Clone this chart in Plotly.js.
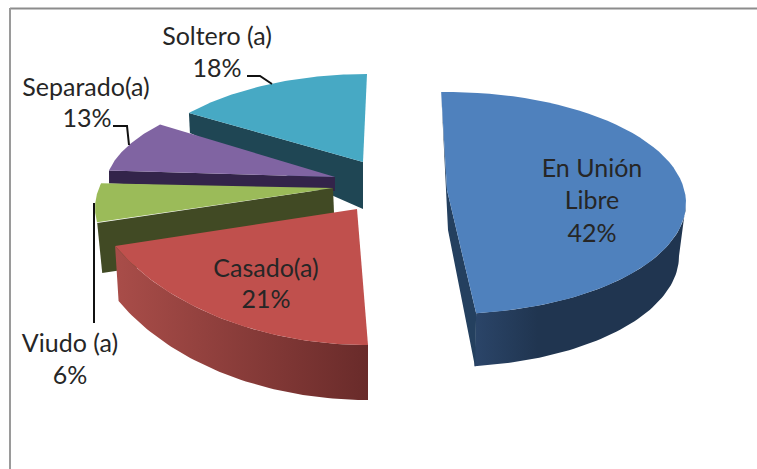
<!DOCTYPE html>
<html>
<head>
<meta charset="utf-8">
<script src="https://cdn.plot.ly/plotly-3.0.0.min.js"></script>
<style>html,body{margin:0;padding:0;background:#fff}</style>
</head>
<body>
<div id="chart" style="width:757px;height:469px"></div>
<script>
// Data
const categories = ['En Unión Libre', 'Casado(a)', 'Viudo (a)', 'Separado(a)', 'Soltero (a)'];
const percents = [42, 21, 6, 13, 18];
// Angle each slice starts at and spans as it appears in the 3-D perspective (degrees, clockwise from top)
const startAngle = [-1.4, 180, -97.8, -79.5, -47.9];
const sweepAngle = [174.4, 60.7, 20.8, 29.1, 47.9];

// Styles and geometry of the exploded perspective pie
const faceColor = ['#4f81bd', '#c0504d', '#9bbb59', '#8064a2', '#47a9c4'];
const wallColor = ['#213650', '#7a2f2d', '#414a24', '#33244a', '#1f4654'];
const apexX = [447, 357, 333, 335, 363];
const apexY = [190, 209, 188, 177, 162];
const ellX = [447, 368, 334, 345, 367];
const ellY = [203, 151, 208, 189, 192];
const ellRx = [239, 290, 239, 240, 240];
const ellRy = [111, 194, 110, 101, 118];

function arc(i, a0, a1, dx, dy, rx) {
  const xs = [], ys = [], n = 60;
  for (let k = 0; k <= n; k++) {
    const t = (a0 + (a1 - a0) * k / n) * Math.PI / 180;
    xs.push(ellX[i] + dx + (rx || ellRx[i]) * Math.sin(t));
    ys.push(ellY[i] + dy - ellRy[i] * Math.cos(t));
  }
  return [xs, ys];
}
function poly(name, x, y, color, gradient) {
  const t = {type: 'scatter', mode: 'lines', name, x: x.concat(x[0]), y: y.concat(y[0]),
    fill: 'toself', fillcolor: color, line: {width: 0, color}, hoverinfo: 'name', showlegend: false};
  if (gradient) t.fillgradient = {type: 'horizontal', colorscale: gradient};
  return t;
}
function face(i) {
  const [xs, ys] = arc(i, startAngle[i], startAngle[i] + sweepAngle[i], 0, 0);
  return poly(categories[i], [apexX[i]].concat(xs), [apexY[i]].concat(ys), faceColor[i]);
}
function sideWall(i, end, apexDx, apexD, outDx, outD) {
  const [xs, ys] = arc(i, startAngle[i], startAngle[i] + sweepAngle[i], 0, 0);
  const px = end ? xs[xs.length - 1] : xs[0], py = end ? ys[ys.length - 1] : ys[0];
  return poly(categories[i], [px, apexX[i], apexX[i] + apexDx, px + outDx],
    [py, apexY[i], apexY[i] + apexD, py + outD], wallColor[i]);
}

const traces = [];
// Soltero
traces.push(sideWall(4, false, 0, 47, 1, 20));
traces.push(face(4));
// Separado
traces.push(sideWall(3, false, 0, 14, 0, 13));
traces.push(face(3));
// Viudo
traces.push(sideWall(2, false, 2, 50, 5, 50));
traces.push(face(2));
// En Unión Libre: rim plus inner wall
(function () {
  const i = 0, end = startAngle[i] + sweepAngle[i];
  const [tx, ty] = arc(i, 90, end, 0, 0);
  const [bx, by] = arc(i, end, 90, -1, 53, 233);
  traces.push(poly(categories[i], tx.concat(bx), ty.concat(by), wallColor[i],
    [[0, '#2b4569'], [0.3, '#203550'], [1, '#203550']]));
  const [sx, sy] = arc(i, startAngle[i], startAngle[i], 0, 0);
  const [ex, ey] = arc(i, end, end, 0, 0);
  traces.push(poly(categories[i],
    [sx[0], apexX[i], ex[0], ex[0] - 1, apexX[i] + 1, sx[0]],
    [sy[0], apexY[i], ey[0], ey[0] + 54, apexY[i] + 40, sy[0] + 9], '#24405f'));
  traces.push(face(i));
})();
// Casado rim
(function () {
  const i = 1, end = startAngle[i] + sweepAngle[i];
  const [tx, ty] = arc(i, 180, end, 0, 0);
  const [bx, by] = arc(i, end, 180, 0, 55, 286);
  traces.push(poly(categories[i], tx.concat(bx), ty.concat(by), wallColor[i],
    [[0, '#a94d49'], [1, '#692b2a']]));
  traces.push(face(i));
})();

// Text labels, one point per line
const labelLines = ['En Unión', 'Libre', percents[0] + '%', categories[1], percents[1] + '%',
  categories[2], percents[2] + '%', categories[3], percents[3] + '%', categories[4], percents[4] + '%'];
const labelX = [592, 592, 592, 266, 266, 70, 70, 86, 87, 217, 217];
const labelY = [170.5, 202.5, 235.5, 270.5, 301.5, 345.5, 377.5, 89.5, 120.5, 38.5, 70.5];
traces.push({type: 'scatter', mode: 'text', x: labelX, y: labelY, text: labelLines,
  textposition: 'middle center', textfont: {family: 'Lato, sans-serif', size: 25, color: '#262626'},
  hoverinfo: 'skip', showlegend: false, cliponaxis: false});

// Leader lines
function leader(x, y) {
  return {type: 'scatter', mode: 'lines', x, y, line: {color: '#111111', width: 2},
    hoverinfo: 'skip', showlegend: false};
}
traces.push(leader([247, 260, 272], [76, 76, 84]));
traces.push(leader([113, 127, 129], [126, 126, 145]));
traces.push(leader([94, 94], [203, 323]));

const layout = {
  width: 757, height: 469, autosize: false,
  margin: {l: 0, r: 0, t: 0, b: 0},
  paper_bgcolor: '#ffffff', plot_bgcolor: '#ffffff',
  showlegend: false,
  xaxis: {range: [0, 757], visible: false, fixedrange: true},
  yaxis: {range: [469, 0], visible: false, fixedrange: true},
  shapes: [
    {type: 'line', xref: 'x', yref: 'y', x0: 10, y0: 8.5, x1: 757, y1: 8.5, line: {color: '#8c8c8c', width: 2}},
    {type: 'line', xref: 'x', yref: 'y', x0: 10, y0: 8, x1: 10, y1: 469, line: {color: '#9a9a9a', width: 2}}
  ]
};
Plotly.newPlot('chart', traces, layout, {displayModeBar: false, staticPlot: true});
</script>
</body>
</html>
